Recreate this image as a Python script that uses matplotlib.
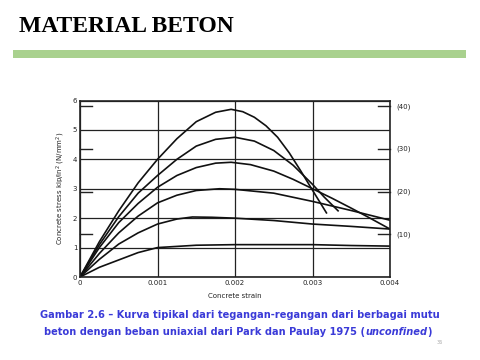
import numpy as np
import matplotlib
matplotlib.use('Agg')
import matplotlib.pyplot as plt

# strain values (x 1e-3) and stress (kip/in^2)
x_40 = [0, 0.25, 0.5, 0.75, 1.0, 1.25, 1.5, 1.75, 1.95, 2.1, 2.25, 2.4, 2.55, 2.7, 2.85, 3.0, 3.18]
y_40 = [0, 1.2, 2.25, 3.2, 4.0, 4.7, 5.28, 5.6, 5.7, 5.62, 5.43, 5.14, 4.75, 4.22, 3.6, 2.95, 2.18]

x_30 = [0, 0.25, 0.5, 0.75, 1.0, 1.25, 1.5, 1.75, 2.0, 2.25, 2.5, 2.75, 3.0, 3.15, 3.33]
y_30 = [0, 1.1, 2.05, 2.85, 3.45, 4.0, 4.45, 4.68, 4.75, 4.62, 4.3, 3.8, 3.15, 2.72, 2.25]

x_25 = [0, 0.25, 0.5, 0.75, 1.0, 1.25, 1.5, 1.75, 1.95, 2.2, 2.5, 2.75, 3.0, 3.25, 3.5, 3.75, 4.0]
y_25 = [0, 1.0, 1.85, 2.5, 3.05, 3.45, 3.72, 3.87, 3.9, 3.82, 3.6, 3.32, 3.0, 2.68, 2.34, 1.99, 1.63]

x_20 = [0, 0.25, 0.5, 0.75, 1.0, 1.25, 1.5, 1.8, 2.0, 2.5, 3.0, 3.5, 4.0]
y_20 = [0, 0.8, 1.5, 2.07, 2.52, 2.78, 2.94, 3.0, 2.98, 2.85, 2.57, 2.26, 1.93]

x_15 = [0, 0.25, 0.5, 0.75, 1.0, 1.25, 1.45, 1.7, 2.0, 2.5, 3.0, 3.5, 4.0]
y_15 = [0, 0.6, 1.12, 1.5, 1.8, 1.97, 2.04, 2.03, 2.0, 1.92, 1.8, 1.72, 1.63]

x_10 = [0, 0.25, 0.5, 0.75, 1.0, 1.5, 2.0, 2.5, 3.0, 3.5, 4.0]
y_10 = [0, 0.33, 0.58, 0.83, 1.0, 1.08, 1.1, 1.1, 1.1, 1.07, 1.05]

curves = [(x_40, y_40), (x_30, y_30), (x_25, y_25), (x_20, y_20), (x_15, y_15), (x_10, y_10)]

xticks = [0, 0.001, 0.002, 0.003, 0.004]
xtick_labels = ['0', '0.001', '0.002', '0.003', '0.004']
yticks = [0, 1, 2, 3, 4, 5, 6]
mpa_ticks = [10, 20, 30, 40]
KSI_TO_MPA = 6.895

fig = plt.figure(figsize=(4.8, 3.6), dpi=100)

# slide header
fig.text(19 / 480, 1 - 26 / 360, 'MATERIAL BETON', family='Liberation Serif',
         fontsize=17, fontweight='bold', va='center', ha='left')
fig.patches.append(plt.Rectangle((13 / 480, 1 - 58 / 360), 453 / 480, 8 / 360,
                                 transform=fig.transFigure, color='#a9d18e', lw=0))

ax = fig.add_axes([80 / 480, 1 - 277 / 360, 310 / 480, 176.5 / 360])
for xs, ys in curves:
    ax.plot(np.array(xs) * 1e-3, ys, color='#111111', lw=1.2,
            solid_joinstyle='round')

ax.set_xlim(0, 0.004)
ax.set_ylim(0, 6)
ax.set_xticks(xticks)
ax.set_xticklabels(xtick_labels)
ax.set_yticks(yticks)
ax.grid(True, color='#222222', lw=0.9)
ax.tick_params(length=0, labelsize=5, pad=2, colors='#222222')
for s in ax.spines.values():
    s.set_linewidth(1.2)
    s.set_color('#222222')

# N/mm2 marks on both sides
for m in mpa_ticks:
    yv = m / KSI_TO_MPA
    ax.plot([0, 0.00016], [yv, yv], color='#222222', lw=1.0, clip_on=False)
    ax.plot([0.0040 - 0.00016, 0.0040], [yv, yv], color='#222222', lw=1.0, clip_on=False)
    ax.text(0.00408, yv, '(%d)' % m, fontsize=5, va='center', ha='left', color='#222222')

ax.set_xlabel('Concrete strain', fontsize=5, labelpad=5, color='#222222')
ax.set_ylabel('Concrete stress kip/in$^2$ (N/mm$^2$)', fontsize=5, labelpad=4, color='#222222')

# caption
blue = '#3a3ad8'
cap_size = 7.1
fig.text(240 / 480, 1 - 315 / 360,
         'Gambar 2.6 \u2013 Kurva tipikal dari tegangan-regangan dari berbagai mutu',
         fontsize=cap_size, fontweight='bold', color=blue, ha='center', va='center')
t1 = fig.text(43 / 480, 1 - 332 / 360,
              'beton dengan beban uniaxial dari Park dan Paulay 1975 (',
              fontsize=cap_size, fontweight='bold', color=blue, ha='left', va='center')
fig.canvas.draw()
r = fig.canvas.get_renderer()
bb = t1.get_window_extent(r)
t2 = fig.text(bb.x1 / 480, 1 - 332 / 360, 'unconfined', fontsize=cap_size,
              fontweight='bold', style='italic', color=blue, ha='left', va='center')
bb2 = t2.get_window_extent(r)
t3 = fig.text((bb2.x1 + 0.5) / 480, 1 - 332 / 360, ')', fontsize=cap_size,
              fontweight='bold', color=blue, ha='left', va='center')
# center the second line as a whole
w = bb2.x1 + 0.5 + t3.get_window_extent(r).width - bb.x0
shift = (238 - w / 2) - bb.x0
for t in (t1, t2, t3):
    px, py = t.get_position()
    t.set_position((px + shift / 480, py))

fig.text(440 / 480, 1 - 343 / 360, '36', fontsize=3.5, color='#aaaaaa', ha='center', va='center')

fig.savefig('out.png', dpi=100)
